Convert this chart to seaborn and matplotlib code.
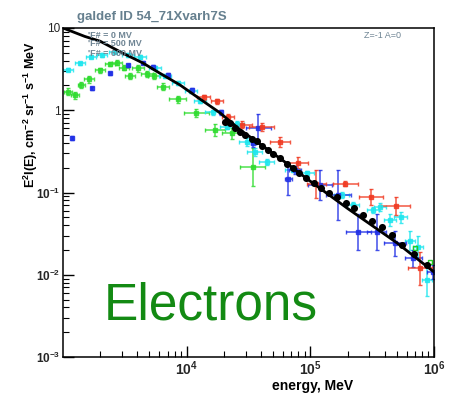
import numpy as np
import pandas as pd
import matplotlib
matplotlib.use("Agg")
import matplotlib.pyplot as plt
import seaborn as sns
from matplotlib.ticker import FixedLocator, FixedFormatter, LogLocator, NullFormatter

# ---------------- data ----------------
line_E = [1000, 1500, 2000, 3000, 4430, 6000, 8830, 13000, 18600, 27000, 40000,
          60000, 100000, 200000, 500000, 1000000]
line_v = [10.0, 7.9, 6.9, 5.0, 3.75, 2.85, 2.03, 1.35, 0.93, 0.58, 0.38,
          0.245, 0.137, 0.064, 0.0245, 0.0108]

dots_E = [20400, 22400, 24600, 27000, 29600, 33500, 36800, 40400, 45700, 50100,
          56800, 64300, 72800, 81300, 92100, 107000, 123000, 142000, 165000,
          193000, 225000, 268000, 316000, 377000, 459000, 553000, 692000, 881000]
dots_v = [0.724, 0.693, 0.612, 0.547, 0.499, 0.443, 0.422, 0.370, 0.328, 0.293,
          0.260, 0.221, 0.196, 0.174, 0.151, 0.131, 0.115, 0.099, 0.087,
          0.075, 0.064, 0.054, 0.045, 0.0376, 0.0301, 0.0229, 0.0178, 0.0133]

cyan_E = [1100, 1370, 1680, 2070, 2630, 3350, 4190, 5540, 6680, 8510, 10800, 12800,
          16300, 21200, 25500, 30500, 35600, 44300, 72300, 93300, 179000, 222000,
          322000, 365000, 440000, 537000, 638000, 745000, 871000]
cyan_v = [3.1, 3.73, 4.48, 4.7, 5.15, 4.7, 4.44, 3.26, 2.61, 2.14, 1.71, 1.29,
          0.95, 0.63, 0.69, 0.414, 0.313, 0.236, 0.188, 0.171, 0.093, 0.070,
          0.061, 0.067, 0.046, 0.050, 0.026, 0.0218, 0.0086]
cyan_xd = [0.04, 0.04, 0.04, 0.04, 0.05, 0.05, 0.05, 0.05, 0.05, 0.05, 0.05, 0.05,
           0.06, 0.06, 0.06, 0.06, 0.06, 0.06, 0.06, 0.06, 0.06, 0.05,
           0.05, 0.05, 0.05, 0.05, 0.04, 0.04, 0.04]
cyan_yd = [0.02, 0.02, 0.02, 0.02, 0.02, 0.02, 0.02, 0.02, 0.02, 0.02, 0.02, 0.02,
           0.03, 0.03, 0.03, 0.05, 0.05, 0.04, 0.03, 0.03, 0.04, 0.04,
           0.04, 0.05, 0.07, 0.07, 0.12, 0.13, 0.19]

green_E = [1100, 1250, 1410, 1610, 1990, 2400, 2750, 3110, 3480, 4020, 4750, 5440,
           6470, 8460, 12000, 16900, 23100, 34200]
green_v = [1.68, 1.52, 2.03, 2.38, 3.08, 3.65, 3.78, 3.29, 2.61, 3.24, 2.75, 2.61,
           1.93, 1.36, 0.93, 0.574, 0.524, 0.202]
green_xd = [0.03, 0.03, 0.03, 0.04, 0.04, 0.04, 0.04, 0.04, 0.04, 0.05, 0.05, 0.05,
            0.05, 0.07, 0.1, 0.08, 0.08, 0.1]
green_yd = [0.04, 0.04, 0.04, 0.04, 0.03, 0.03, 0.03, 0.03, 0.04, 0.04, 0.04, 0.04,
            0.04, 0.04, 0.05, 0.07, 0.07, 0.23]

green_sq_E = [701000, 927000]
green_sq_v = [0.0212, 0.0144]

blue_E = [1190, 1710, 2400, 3370, 4410, 5370, 7100, 11000, 18800, 34500, 37900,
          66300, 75100, 120000, 168000, 244000, 343000, 483000, 679000, 980000]
blue_v = [0.46, 1.85, 2.81, 3.51, 3.78, 3.38, 2.68, 1.76, 0.95, 0.396, 0.612,
          0.146, 0.188, 0.123, 0.093, 0.0333, 0.0333, 0.024, 0.0158, 0.0108]
blue_xd = [0.005, 0.005, 0.005, 0.005, 0.005, 0.005, 0.005, 0.005, 0.005, 0.02, 0.1,
           0.03, 0.05, 0.1, 0.1, 0.1, 0.08, 0.09, 0.07, 0.05]
blue_yd = [0.02, 0.02, 0.02, 0.02, 0.02, 0.02, 0.02, 0.02, 0.03, 0.05, 0.17,
           0.2, 0.05, 0.18, 0.3, 0.22, 0.22, 0.15, 0.1, 0.08]

red_E = [13700, 17500, 21600, 28200, 40400, 57100, 79800, 112000, 192000, 309000,
         489000, 769000]
red_v = [1.43, 1.28, 0.83, 0.67, 0.63, 0.41, 0.231, 0.128, 0.128, 0.088, 0.069, 0.0120]
red_xd = [0.05, 0.05, 0.05, 0.08, 0.1, 0.08, 0.08, 0.08, 0.1, 0.1, 0.12, 0.1]
red_yd = [0.03, 0.03, 0.04, 0.04, 0.05, 0.06, 0.07, 0.17, 0.03, 0.1, 0.11, 0.2]

xtick_vals = [1e4, 1e5, 1e6]
xtick_labels = [r"$10^{4}$", r"$10^{5}$", r"$10^{6}$"]
ytick_vals = [1e-3, 1e-2, 1e-1, 1, 10]
ytick_labels = [r"$10^{-3}$", r"$10^{-2}$", r"$10^{-1}$", "1", "10"]
legend_lines = ["'F# = 0 MV", "'F# = 500 MV", "'F# = 600 MV"]

# ---------------- style ----------------
sns.set_theme(style="white")
plt.rcParams["font.family"] = ["Liberation Sans", "DejaVu Sans"]
plt.rcParams["mathtext.fontset"] = "custom"
plt.rcParams["mathtext.rm"] = "Liberation Sans:bold"
plt.rcParams["mathtext.bf"] = "Liberation Sans:bold"
plt.rcParams["mathtext.it"] = "Liberation Sans:bold"
plt.rcParams["mathtext.default"] = "rm"

W, H = 450, 393
fig = plt.figure(figsize=(W / 100, H / 100), dpi=100)
ax = fig.add_axes([63 / W, 1 - 357 / H, (434 - 63) / W, (357 - 28) / H])
ax.set_facecolor("white")


def eb(E, v, xd, yd, color, ms=2.5):
    E = np.asarray(E, float)
    v = np.asarray(v, float)
    xd = np.asarray(xd, float)
    yd = np.asarray(yd, float)
    xerr = [E - E * 10 ** (-xd), E * 10 ** xd - E]
    yerr = [v - v * 10 ** (-yd), v * 10 ** yd - v]
    ax.errorbar(E, v, xerr=xerr, yerr=yerr, fmt="s", ms=ms, color=color,
                ecolor=color, elinewidth=1.1, capsize=1.6, capthick=1.0,
                alpha=0.85, zorder=2)


eb(green_E, green_v, green_xd, green_yd, "#2fdc2f")
eb(cyan_E, cyan_v, cyan_xd, cyan_yd, "#1ee6ee")
eb(blue_E, blue_v, blue_xd, blue_yd, "#2030e6")
eb(red_E, red_v, red_xd, red_yd, "#f03a22")
ax.plot(green_sq_E, green_sq_v, "s", ms=3.5, mfc="none", mec="#22cc22", mew=1, zorder=3)

dots = pd.DataFrame({"E": dots_E, "v": dots_v})
sns.scatterplot(data=dots, x="E", y="v", ax=ax, color="black", s=26,
                edgecolor="black", linewidth=0, zorder=4)
line = pd.DataFrame({"E": line_E, "v": line_v})
sns.lineplot(data=line, x="E", y="v", ax=ax, color="black", lw=2.0, zorder=5,
             estimator=None, sort=True)

ax.set_xscale("log")
ax.set_yscale("log")
ax.set_xlim(1e3, 1e6)
ax.set_ylim(1e-3, 10)

ax.xaxis.set_major_locator(FixedLocator(xtick_vals))
ax.xaxis.set_major_formatter(FixedFormatter(xtick_labels))
ax.yaxis.set_major_locator(FixedLocator(ytick_vals))
ax.yaxis.set_major_formatter(FixedFormatter(ytick_labels))
ax.xaxis.set_minor_locator(LogLocator(base=10, subs=np.arange(2, 10)))
ax.yaxis.set_minor_locator(LogLocator(base=10, subs=np.arange(2, 10)))
ax.xaxis.set_minor_formatter(NullFormatter())
ax.yaxis.set_minor_formatter(NullFormatter())
ax.tick_params(which="major", direction="in", length=8, width=1, color="black",
               bottom=True, left=True, top=False, right=False)
ax.tick_params(which="minor", direction="in", length=4, width=0.8, color="black",
               bottom=True, left=True, top=False, right=False)
ax.tick_params(axis="x", which="major", pad=2, labelsize=10)
ax.tick_params(axis="y", which="major", pad=2, labelsize=8.5)
for sp in ax.spines.values():
    sp.set_color("black")
    sp.set_linewidth(1.1)
ax.set_xlabel("")
ax.set_ylabel("")

# ---------------- texts ----------------
fig.text(272 / W, 1 - 386 / H, "energy, MeV", fontsize=10, fontweight="bold",
         ha="left", va="center", color="black")
fig.text(31 / W, 1 - 115 / H,
         r"E$^{2}$I(E), cm$^{-2}$ sr$^{-1}$ s$^{-1}$ MeV", rotation=90,
         fontsize=9, fontweight="bold", ha="center", va="center", color="black")
fig.text(77 / W, 1 - 20 / H, "galdef ID 54_71Xvarh7S", fontsize=9.5,
         fontweight="bold", color="#66808f", ha="left", va="baseline")
fig.text(364 / W, 1 - 35 / H, "Z=-1 A=0", fontsize=6.5, color="#6f8594",
         ha="left", va="center")
for i, t in enumerate(legend_lines):
    fig.text(88 / W, 1 - (35 + 9 * i) / H, t, fontsize=6.5, color="#6f8594",
             fontweight="bold", ha="left", va="center")
fig.text(104 / W, 1 - 320 / H, "Electrons", fontsize=37, color="#138a13",
         ha="left", va="baseline")

fig.savefig("out.png", dpi=100, facecolor="white")
